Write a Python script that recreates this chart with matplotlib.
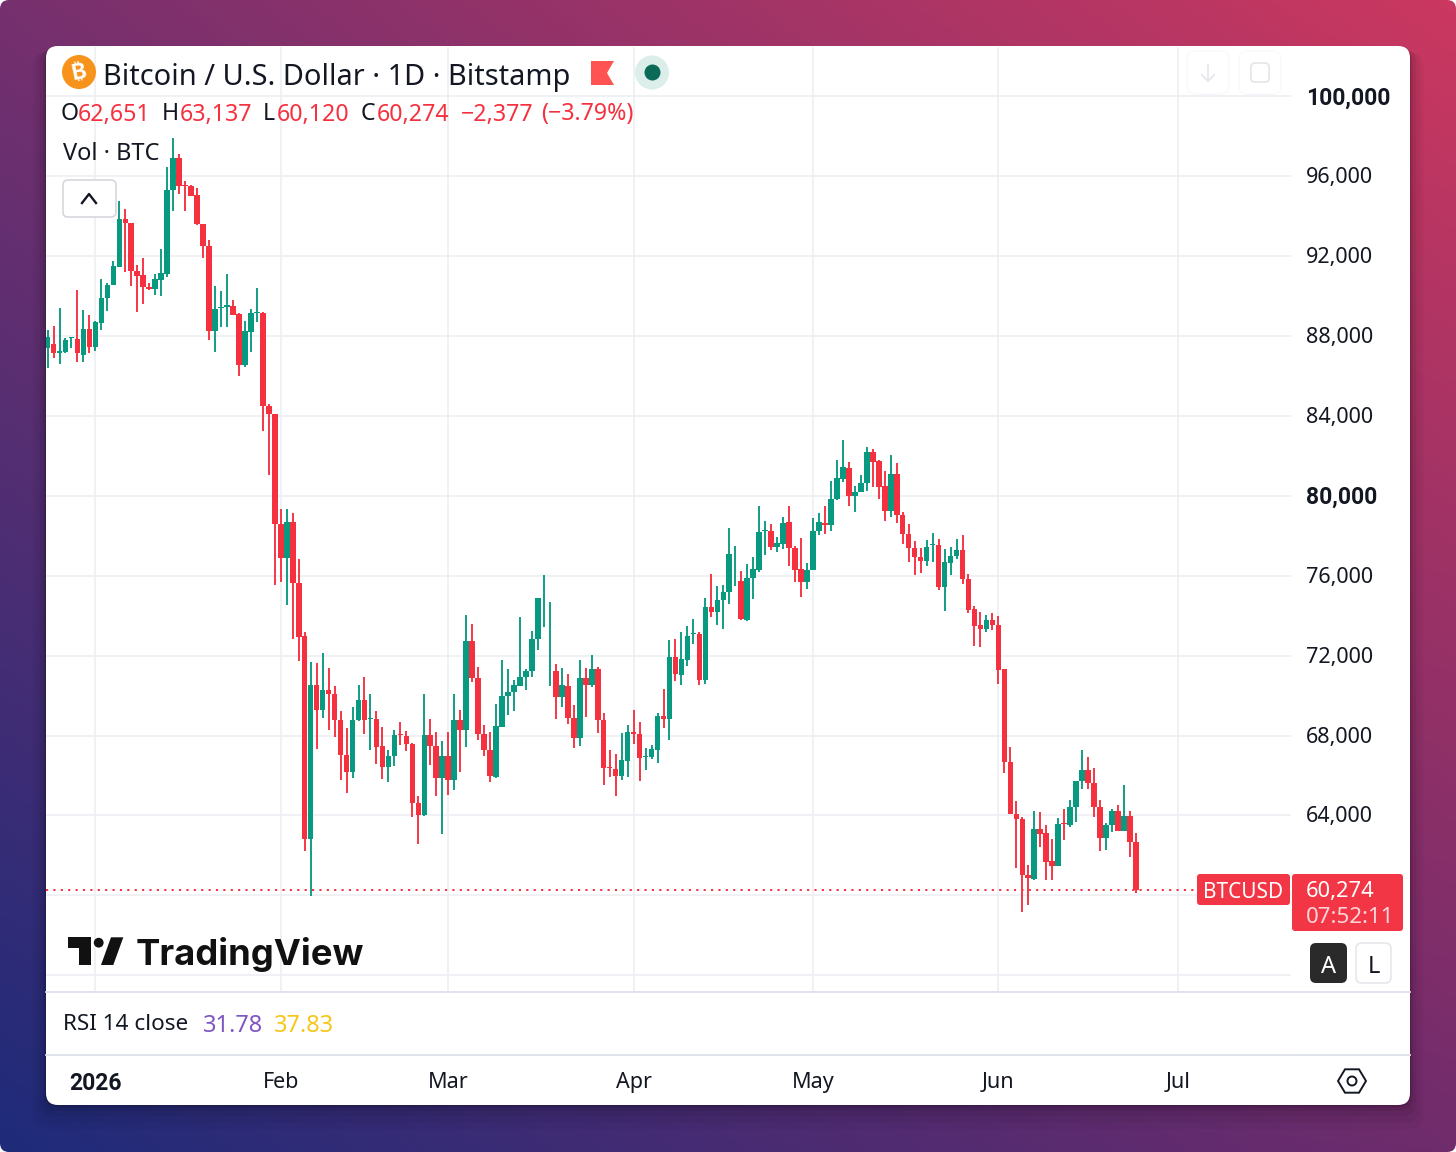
import numpy as np
import pandas as pd
import matplotlib
matplotlib.use("Agg")
import matplotlib.pyplot as plt
import matplotlib.dates as mdates
from matplotlib.patches import FancyBboxPatch, Circle, Polygon
from matplotlib.colors import to_rgb
from matplotlib.transforms import ScaledTranslation

plt.rcParams['font.family'] = ['Noto Sans', 'DejaVu Sans']

# ---------------- data ----------------
first_day = '2025-12-24'
opens = [
 87380,87580,87170,87220,87880,87850,87070,88380,87470,88680,
 89920,90550,91470,93880,93680,91250,91050,90470,90350,90800,
 91130,95330,96930,95580,95520,95080,93600,92520,88270,89430,
 89480,89500,89100,86530,88220,89150,89180,84520,84080,78600,
 76880,78670,75630,73000,62800,70550,69260,70300,70100,68800,
 67050,66180,68800,69800,68830,68830,67460,66410,66960,68080,
 67960,67600,64630,64050,68030,67500,65860,67000,65760,68800,
 68300,72720,70880,68100,67280,65930,68430,69960,70170,70500,
 70930,71220,72830,73920,71270,71230,69920,70500,68900,67870,
 70900,70520,71330,68800,66430,66330,65960,66750,68180,68100,
 66930,66930,67300,69000,68820,71930,71050,71760,73070,73100,
 70760,74430,74170,74780,75170,75720,75750,73800,75870,76300,
 78230,78250,77430,77600,78670,77380,76330,75700,76270,78220,
 78650,78550,79830,80870,81400,80000,80180,80650,82200,81730,
 80480,79250,81080,79050,78100,77380,76950,76750,77530,77550,
 75420,76630,76970,77270,75830,74350,73550,73350,73800,73530,
 71310,66660,64060,63830,61030,60830,63330,63100,61700,61450,
 63600,63510,64410,65750,66300,65650,64430,62880,63500,64250,
 63210,63980,62651]
highs = [
 88300,88520,89430,87880,87970,90300,89300,89080,88750,90880,
 90670,91750,94750,94380,93680,91550,91930,90670,91130,92380,
 96470,97930,97130,95770,95580,95430,93600,92800,90500,90250,
 91130,89800,89170,88750,89380,90430,89220,84580,84080,79330,
 79330,79130,76850,73180,71700,71630,72160,71360,70500,69230,
 68400,69410,70550,70950,70080,69230,68430,67300,68300,68680,
 68250,67650,65000,70080,68850,68200,67750,68200,70100,69270,
 74050,73580,71420,68550,68200,69600,71800,71330,70800,73930,
 71330,73250,74900,76020,74670,71600,71380,71080,69550,71800,
 71370,72020,71420,69130,67280,67080,68130,68530,69280,68670,
 67380,67550,69130,70330,72770,72830,73180,73470,73830,73200,
 74880,76100,75470,75550,78380,77470,76230,76570,76930,79500,
 78720,78580,77930,78930,79500,77470,77880,76630,78880,79130,
 79470,80770,81800,82800,81680,80500,81050,82430,82330,81800,
 81270,82050,81630,79170,78580,77750,77370,77800,78120,77830,
 77330,77420,77830,78020,76070,74500,74200,74030,74150,73970,
 71310,67410,64710,63930,61510,64210,64200,63500,62830,63850,
 64350,64800,65750,67300,66950,66400,64780,63600,64350,64550,
 65550,64210,63137]
lows = [
 86380,86920,86580,87170,87380,86720,86720,87130,87270,88300,
 89280,90550,91470,91220,90530,89200,89620,90300,90050,90020,
 90970,94250,95100,94250,95000,93570,91930,87800,87200,88470,
 88470,89070,86020,86470,87200,88730,83250,81050,75550,75670,
 74550,72860,71710,62210,59960,67350,68880,68260,67910,65760,
 65130,65860,68710,68080,67300,66600,65850,65660,66460,67510,
 67210,63910,62560,63960,66550,64960,63050,65050,65300,66180,
 67430,70680,67770,66970,65660,65860,68420,69020,69250,70470,
 70300,70930,72300,73430,70500,68830,69420,68600,67380,67470,
 68920,70420,68130,65520,65920,64960,65760,65950,67570,65710,
 66300,66830,66630,68370,67770,70720,70510,71460,72600,70550,
 70600,73920,73550,73330,74600,75470,73800,73750,74830,76170,
 77020,77300,77200,77350,76470,75670,74920,75330,76270,78020,
 78070,78220,79800,80720,79500,79200,80180,80270,80470,79850,
 78720,78920,78630,77600,76680,76030,76120,76470,76680,75300,
 74220,76030,76850,75570,74120,72500,72420,73170,73300,70600,
 66130,64060,61350,59160,59530,60750,62410,60750,60750,61450,
 62780,63430,63660,65330,65350,63910,62210,62260,63160,63210,
 63210,61900,60120]
closes = [
 87970,87170,87270,87780,87930,87130,88380,87470,88720,89920,
 90580,91500,93880,93670,91250,91020,90470,90350,90850,91170,
 95330,96930,95520,95520,95030,93600,92520,88270,89350,89480,
 89550,89070,86550,88250,89150,89220,84520,84080,78600,76880,
 78670,75630,72960,62800,70550,69260,70300,70100,68800,67010,
 66180,68800,69800,68800,68880,67430,66410,67000,68050,68010,
 67580,64610,64050,68030,67500,65880,67000,65760,68800,68300,
 72720,70880,68100,67270,65960,68500,69970,70200,70530,70930,
 71250,72850,74900,73920,71270,69920,70530,68870,67870,70880,
 70520,71330,68800,66370,66370,65960,66770,68180,68100,66870,
 66980,67320,69000,68830,71930,71100,71830,73000,73130,70760,
 74430,74170,74780,75180,77100,75720,73830,75880,76330,78200,
 78280,77430,77650,78650,77370,76300,75700,76300,78250,78670,
 78550,79830,80880,81430,80000,80180,80670,82200,81720,80470,
 79250,81080,79020,78100,77380,76920,76750,77450,77600,75430,
 76670,77000,77270,75820,74300,73470,73350,73800,73530,71300,
 66660,64060,63800,61010,60850,63330,63060,61660,61460,63550,
 63550,64450,65750,66300,65610,64410,62880,63500,64250,63210,
 63980,62651,60274]

price_ticks = [100000,96000,92000,88000,84000,80000,76000,72000,68000,64000,60000,56000]
price_labels = ['100,000','96,000','92,000','88,000','84,000','80,000','76,000','72,000','68,000','64,000','','']
bold_prices = ['100,000','80,000']
month_days = ['2026-01-01','2026-02-01','2026-03-01','2026-04-01','2026-05-01','2026-06-01','2026-07-01']
month_labels = ['2026','Feb','Mar','Apr','May','Jun','Jul']
last_close = 60274
rsi_values = ['31.78','37.83']

# ---------------- colours ----------------
UP, DOWN = '#089981', '#F5303F'
INK = '#131722'
GRID = '#EDEFF3'
RULE = '#DEE0EA'
BOLD_FONT = 'Roboto'

W, H = 1456, 1152
fig = plt.figure(figsize=(W/100, H/100), dpi=100, facecolor='white')

# background gradient
bg = fig.add_axes([0, 0, 1, 1], zorder=0)
bg.set_axis_off()
u, v = np.meshgrid(np.linspace(0, 1, 300), np.linspace(0, 1, 240))
c = [np.array(to_rgb(k)) for k in ('#76306E', '#CB3860', '#1E2B7A', '#702C6C')]
img = ((1-u)*(1-v))[..., None]*c[0] + (u*(1-v))[..., None]*c[1] + ((1-u)*v)[..., None]*c[2] + (u*v)[..., None]*c[3]
im = bg.imshow(img, extent=(0, W, H, 0), aspect='auto', interpolation='bilinear')
bg.set_xlim(0, W); bg.set_ylim(H, 0)
frame = FancyBboxPatch((0, 0), W, H, boxstyle='round,pad=0,rounding_size=9', fc='none', ec='none', transform=bg.transData)
bg.add_patch(frame)
im.set_clip_path(frame)
for grow, al in ((22, .03), (16, .04), (10, .05), (5, .07), (2, .12)):
    bg.add_patch(FancyBboxPatch((46-grow*.6, 46+grow*.3), 1364+grow*1.2, 1059+grow*.8,
                 boxstyle='round,pad=0,rounding_size=14', fc='k', ec='none', alpha=al))
bg.add_patch(FancyBboxPatch((46, 46), 1364, 1059, boxstyle='round,pad=0,rounding_size=12', fc='white', ec='none'))

# pixel <-> value calibration of the panes
PX_PER_DAY = 5.98
PX_PER_USD = 79.9/4000
X_JAN1, Y_100K = 95.4, 96.4
L, R, T, B = 46, 1291, 47, 991
jan1 = mdates.date2num(pd.Timestamp('2026-01-01'))
xlim = (jan1 + (L-X_JAN1)/PX_PER_DAY, jan1 + (R-X_JAN1)/PX_PER_DAY)
ylim = (100000 - (B-Y_100K)/PX_PER_USD, 100000 - (T-Y_100K)/PX_PER_USD)

ax = fig.add_axes([L/W, 1-B/H, (R-L)/W, (B-T)/H], zorder=1, facecolor='none')
dates = pd.date_range(first_day, periods=len(opens))
o, h, l, cl = map(np.array, (opens, highs, lows, closes))
cols = [UP if a >= b else DOWN for a, b in zip(cl, o)]
ax.vlines(dates, l, h, colors=cols, lw=1.35, zorder=3)
ax.bar(dates, np.abs(cl-o), bottom=np.minimum(o, cl), width=0.93, color=cols, linewidth=0, zorder=4)
ax.axhline(last_close, color=DOWN, lw=1.4, dashes=(1.1, 2.7), xmax=(1197-L)/(R-L), zorder=5)
ax.set_xlim(*xlim); ax.set_ylim(*ylim)
for s in ax.spines.values():
    s.set_visible(False)
ax.set_xticks(pd.to_datetime(month_days)); ax.set_xticklabels([])
ax.set_yticks(price_ticks); ax.set_yticklabels(price_labels)
ax.yaxis.tick_right()
ax.tick_params(axis='both', length=0)
ax.tick_params(axis='y', pad=11, labelsize=15.5, labelcolor=INK)
up1 = ScaledTranslation(0, 1/100, fig.dpi_scale_trans)
for tl in ax.yaxis.get_ticklabels():
    tl.set_transform(tl.get_transform() + up1)
    if tl.get_text() in bold_prices:
        tl.set_fontfamily(BOLD_FONT)
        tl.set_fontweight('bold')
        tl.set_fontsize(16.5)
ax.grid(True, color=GRID, lw=1.2, zorder=0)
ax.set_axisbelow(True)

# time axis
tx = fig.add_axes([L/W, 1-1105/H, (R-L)/W, 49/H], zorder=1, facecolor='none')
tx.set_xlim(*xlim); tx.set_yticks([])
for s in tx.spines.values():
    s.set_visible(False)
tx.set_xticks(pd.to_datetime(month_days)); tx.set_xticklabels(month_labels)
tx.tick_params(axis='x', length=0, direction='in', pad=-23.8, labelsize=15.5, labelcolor=INK)
first = tx.xaxis.get_ticklabels()[0]
first.set_fontfamily(BOLD_FONT); first.set_fontweight('bold'); first.set_fontsize(16.5)

# overlay in pixels
ov = fig.add_axes([0, 0, 1, 1], zorder=2, facecolor='none')
ov.set_axis_off(); ov.set_xlim(0, W); ov.set_ylim(H, 0)

def txt(x, y, s, size=15.5, color=INK, weight='normal', ha='left', **k):
    return ov.text(x, y, s, fontsize=size, color=color, fontweight=weight, ha=ha, va='center_baseline', **k)

def rbox(x0, y0, x1, y1, r, fc, ec='none', lw=1.0):
    ov.add_patch(FancyBboxPatch((x0, y0), x1-x0, y1-y0, boxstyle=f'round,pad=0,rounding_size={r}', fc=fc, ec=ec, lw=lw))

ov.plot([46, 1410], [992, 992], color=RULE, lw=1.3)
ov.plot([46, 1290], [1055, 1055], color=RULE, lw=1.3)
ov.plot([1292, 1410], [1055, 1055], color=RULE, lw=1.3)

# header
ov.add_patch(Circle((79, 72), 17, fc='#F7931A', ec='none'))
ov.text(79, 72.5, '\u20bf', fontsize=16, color='white', weight='bold', ha='center', va='center',
        family=['Inter', 'Roboto', 'Open Sans', 'Lato', 'Noto Sans', 'DejaVu Sans'], rotation=12)
txt(103, 74, 'Bitcoin / U.S. Dollar \u00b7 1D \u00b7 Bitstamp', size=20.85)
ov.add_patch(Polygon([(591, 61), (614, 61), (607, 73), (614, 85), (591, 85)], fc='#FF5252', ec='none'))
ov.add_patch(Circle((652, 72.5), 17, fc='#DCEEEA', ec='none'))
ov.add_patch(Circle((652.5, 72.5), 8, fc='#0B6B58', ec='none'))
rbox(1187, 51, 1229, 94, 8, 'white', '#F9F9FB')
rbox(1239, 51, 1281, 94, 8, 'white', '#F9F9FB')
ov.plot([1208, 1208], [65, 81], color='#E6E7EA', lw=1.3)
ov.plot([1202, 1208, 1214], [75, 81, 75], color='#E6E7EA', lw=1.3)
rbox(1251, 63, 1269, 82, 4, 'white', '#E6E7EA', 1.3)

parts = [(61, 'O', INK), (78, '62,651', DOWN), (162, 'H', INK), (180, '63,137', DOWN), (263, 'L', INK),
         (277, '60,120', DOWN), (361, 'C', INK), (377, '60,274', DOWN), (461, '\u22122,377', DOWN), (541, '(\u22123.79%)', DOWN)]
for px, s, col in parts:
    txt(px, 111.5, s, size=16.7, color=col)
txt(63, 150.5, 'Vol \u00b7 BTC', size=17)
rbox(63, 180, 116, 217, 5, 'white', '#D6D8DE', 1.2)
ov.plot([82, 89, 96], [203, 194, 203], color=INK, lw=1.7)

# logo
ov.add_patch(Polygon([(68.3, 937.3), (91, 937.3), (91, 965), (79.3, 965), (79.3, 948.3), (68.3, 948.3)], fc='#111', ec='none'))
ov.add_patch(Circle((98.7, 942.7), 4.9, fc='#111', ec='none'))
ov.add_patch(Polygon([(111, 937.3), (123.3, 937.3), (113.3, 965), (101, 965)], fc='#111', ec='none'))
txt(135.5, 951, 'TradingView', size=26.2, color='#111', weight='bold', family='Inter')

# price labels
rbox(1197, 874, 1290, 905, 3, '#F23645')
txt(1243.5, 890, 'BTCUSD', size=15, color='white', ha='center')
rbox(1292, 874, 1403, 931, 3, '#F23645')
txt(1306, 889, '60,274', size=15.8, color='white')
txt(1306, 915, '07:52:11', size=16, color='#FBD5D9')
rbox(1310, 943, 1347, 983, 6, '#2A2A2A')
txt(1328.5, 964, 'A', size=17, color='white', ha='center')
rbox(1356, 943, 1391, 983, 6, 'white', '#E6E7EB', 1.2)
txt(1373.5, 964, 'L', size=17, color=INK, ha='center')

# RSI
txt(63, 1022.5, 'RSI 14 close', size=16.2)
txt(203, 1022.5, rsi_values[0], size=17, color='#7E57C2')
txt(274, 1022.5, rsi_values[1], size=17, color='#F5C71A')

# settings icon
ang = np.radians([0, 60, 120, 180, 240, 300])
ov.add_patch(Polygon(np.c_[1352+14*np.cos(ang), 1081+13.5*np.sin(ang)], fc='none', ec=INK, lw=1.4))
ov.add_patch(Circle((1352, 1081), 4.5, fc='none', ec=INK, lw=1.4))

fig.savefig('out.png', dpi=100)
